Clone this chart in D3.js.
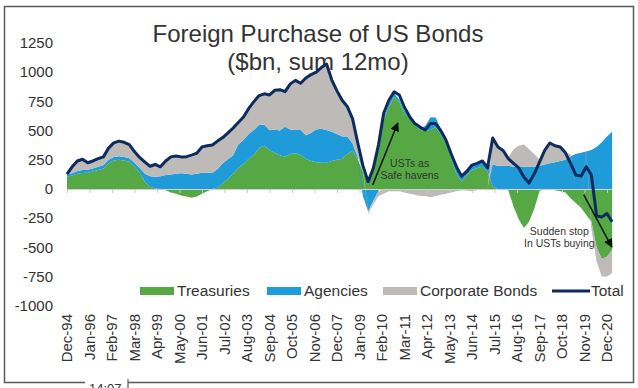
<!DOCTYPE html>
<html>
<head>
<meta charset="utf-8">
<script src="https://cdn.jsdelivr.net/npm/d3@7"></script>
<style>
  html, body { margin: 0; padding: 0; background: #fff; }
  svg { display: block; font-family: "Liberation Sans", Arial, sans-serif; }
</style>
</head>
<body>
<svg id="chart" width="638" height="388"></svg>
<script>
// ---- Data (12-month sums, $bn), sampled every 3 months from Dec-94 to Mar-21 ----
const startDate = new Date(1994, 11, 1);
const dates = d3.timeMonth.range(startDate, new Date(2021, 3, 1), 3);

const treasuries = [105,115,130,137,140,150,163,175,220,245,250,245,234,190,140,60,20,5,0,-10,
  -30,-40,-55,-65,-75,-65,-40,-20,0,10,50,85,130,180,215,260,291,350,370,334,
  310,290,277,300,306,291,260,240,230,225,225,240,250,260,300,330,250,150,60,163,
  380,590,700,790,745,650,607,550,505,500,505,533,460,400,260,130,63,120,163,180,
  191,150,20,0,-5,-10,-150,-260,-334,-280,-170,-20,0,-5,-10,-20,-30,-80,-120,-160,
  -220,-280,-500,-600,-580,-520];

const agencies = [20,20,25,25,25,25,28,28,30,30,30,30,30,35,40,70,90,100,110,120,
  125,130,135,130,125,130,140,140,140,160,170,170,160,200,205,210,214,200,180,170,
  200,210,256,210,200,214,200,240,280,290,280,250,220,190,150,60,20,-60,-190,-100,
  -20,20,30,30,20,20,10,10,15,40,110,80,50,30,40,60,40,40,40,40,
  50,60,190,200,200,200,190,190,190,190,190,200,210,220,230,240,250,280,300,310,
  320,334,360,400,450,491];

const corporate = [5,55,85,93,60,65,69,72,100,120,130,125,116,95,90,100,85,105,80,120,
  145,143,130,137,150,160,200,220,230,240,220,225,232,190,196,220,243,250,265,301,
  335,350,300,390,424,400,490,500,490,525,565,443,370,310,255,210,124,40,-20,-30,
  -40,-40,-20,-20,-20,-30,-40,-50,-60,-60,-70,-60,-50,-40,-30,-20,-10,-15,-20,-10,
  -5,0,220,160,130,70,150,180,190,150,110,50,120,174,140,120,60,20,0,-10,
  20,-60,-120,-150,-170,-200];

const total = [128,190,240,255,225,240,260,275,350,395,410,400,380,320,270,230,195,210,190,240,
  275,283,275,277,290,306,360,370,377,410,440,480,522,570,616,690,748,800,815,805,
  845,850,833,900,930,905,950,980,1000,1040,1070,933,840,760,705,600,394,200,63,180,
  380,648,760,833,805,700,620,560,530,505,560,560,500,420,300,191,110,150,205,220,
  240,180,437,360,330,260,220,180,100,51,130,230,330,394,370,360,310,220,120,110,
  190,120,-230,-240,-210,-280];

const seriesNames = ["Treasuries", "Agencies", "Corporate Bonds"];
const seriesColors = ["#55a843", "#1f9bd9", "#bdbab8"];
const totalColor = "#0c2b5e";

const yTicks = [-1000, -750, -500, -250, 0, 250, 500, 750, 1000, 1250];
const xTickLabels = ["Dec-94","Jan-96","Feb-97","Mar-98","Apr-99","May-00","Jun-01","Jul-02",
  "Aug-03","Sep-04","Oct-05","Nov-06","Dec-07","Jan-09","Feb-10","Mar-11","Apr-12","May-13",
  "Jun-14","Jul-15","Aug-16","Sep-17","Oct-18","Nov-19","Dec-20"];

const annotations = [
  {lines: ["USTs as", "Safe havens"], at: [new Date(2011, 5, 1), 185], lineStep: -103,
   arrowFrom: [new Date(2009, 7, 20), 34], arrowTo: [new Date(2010, 10, 5), 565]},
  {lines: ["Sudden stop", "In USTs buying"], at: [new Date(2018, 7, 15), -392], lineStep: -106,
   arrowFrom: [new Date(2019, 9, 20), -51], arrowTo: [new Date(2021, 1, 25), -497]}
];

// ---- Drawing ----
const svg = d3.select("#chart");
const x = d3.scaleTime().domain([startDate, new Date(2020, 11, 1)]).range([67, 607]);
const y = d3.scaleLinear().domain([-1000, 1250]).range([305.8, 43]);

// frame
const frame = svg.append("g").attr("stroke", "#5a5a5a").attr("stroke-width", 1.5).attr("fill", "none");
frame.append("path").attr("d", "M85,382.5 H4.5 V6.5 H633.5 V382.5 H128");
frame.append("line").attr("x1", 128).attr("x2", 128).attr("y1", 379).attr("y2", 388).attr("stroke-width", 1.2);
svg.append("text").attr("x", 89).attr("y", 393).attr("font-size", 13).attr("fill", "#333").text("14:07");

// title
const title = svg.append("g").attr("text-anchor", "middle").attr("fill", "#333").attr("font-size", 24);
title.append("text").attr("x", 318).attr("y", 42).text("Foreign Purchase of US Bonds");
title.append("text").attr("x", 318).attr("y", 70).text("($bn, sum 12mo)");

// stacked areas
const table = dates.map((d, i) => ({
  date: d, Treasuries: treasuries[i], Agencies: agencies[i], "Corporate Bonds": corporate[i]
}));
const stack = d3.stack().keys(seriesNames).offset(d3.stackOffsetDiverging);
const stacked = stack(table);
const area = d3.area().x(d => x(d.data.date)).y0(d => y(d[0])).y1(d => y(d[1]));
svg.append("g").selectAll("path").data(stacked).join("path")
  .attr("fill", (d, i) => seriesColors[i]).attr("d", area);

// zero axis with ticks
const tickDates = xTickLabels.map((_, i) => d3.timeMonth.offset(startDate, 13 * i));
const xAxis = svg.append("g").attr("transform", `translate(0,${y(0)})`)
  .call(d3.axisBottom(x).tickValues(tickDates).tickFormat("").tickSize(4).tickSizeOuter(0));
xAxis.select(".domain").attr("stroke", "#d0d0d0").attr("d", `M${x(startDate)},0.5H${x(dates[dates.length-1])}`);
xAxis.selectAll(".tick line").attr("stroke", "#c8c8c8");

// total line
const line = d3.line().x((d, i) => x(dates[i])).y(d => y(d));
svg.append("path").datum(total).attr("fill", "none").attr("stroke", totalColor)
  .attr("stroke-width", 3).attr("stroke-linejoin", "round").attr("d", line);

// y labels
svg.append("g").attr("font-size", 15).attr("fill", "#333").attr("text-anchor", "end")
  .selectAll("text").data(yTicks).join("text")
  .attr("x", 53).attr("y", d => y(d)).attr("dy", "0.35em").text(d => d);

// x labels (rotated)
svg.append("g").attr("font-size", 15).attr("fill", "#333").attr("text-anchor", "end")
  .selectAll("text").data(tickDates).join("text")
  .attr("transform", d => `translate(${x(d)},314) rotate(-90)`)
  .attr("dy", "0.35em").text((d, i) => xTickLabels[i]);

// annotations
const defs = svg.append("defs");
defs.append("marker").attr("id", "arr").attr("viewBox", "0 0 10 10").attr("refX", 9).attr("refY", 5)
  .attr("markerWidth", 6).attr("markerHeight", 6).attr("orient", "auto")
  .append("path").attr("d", "M0,0 L10,5 L0,10 z").attr("fill", "#111");
annotations.forEach(a => {
  svg.append("line")
    .attr("x1", x(a.arrowFrom[0])).attr("y1", y(a.arrowFrom[1]))
    .attr("x2", x(a.arrowTo[0])).attr("y2", y(a.arrowTo[1]))
    .attr("stroke", "#111").attr("stroke-width", 1.5).attr("marker-end", "url(#arr)");
  a.lines.forEach((t, j) => {
    svg.append("text").attr("x", x(a.at[0])).attr("y", y(a.at[1] + j * a.lineStep))
      .attr("text-anchor", "middle").attr("font-size", 10.5).attr("fill", "#333").text(t);
  });
});

// legend
const legend = svg.append("g").attr("font-size", 15.5).attr("fill", "#333");
const legItems = [
  {name: seriesNames[0], color: seriesColors[0], x: 140, type: "rect"},
  {name: seriesNames[1], color: seriesColors[1], x: 267, type: "rect"},
  {name: seriesNames[2], color: seriesColors[2], x: 383, type: "rect"},
  {name: "Total", color: totalColor, x: 552, type: "line"}
];
legItems.forEach(it => {
  if (it.type === "rect") {
    legend.append("rect").attr("x", it.x).attr("y", 287).attr("width", 34).attr("height", 8).attr("fill", it.color);
  } else {
    legend.append("line").attr("x1", it.x).attr("x2", it.x + 38).attr("y1", 291).attr("y2", 291)
      .attr("stroke", it.color).attr("stroke-width", 3);
  }
  legend.append("text").attr("x", it.x + (it.type === "rect" ? 37 : 39)).attr("y", 296).text(it.name);
});
</script>
</body>
</html>
